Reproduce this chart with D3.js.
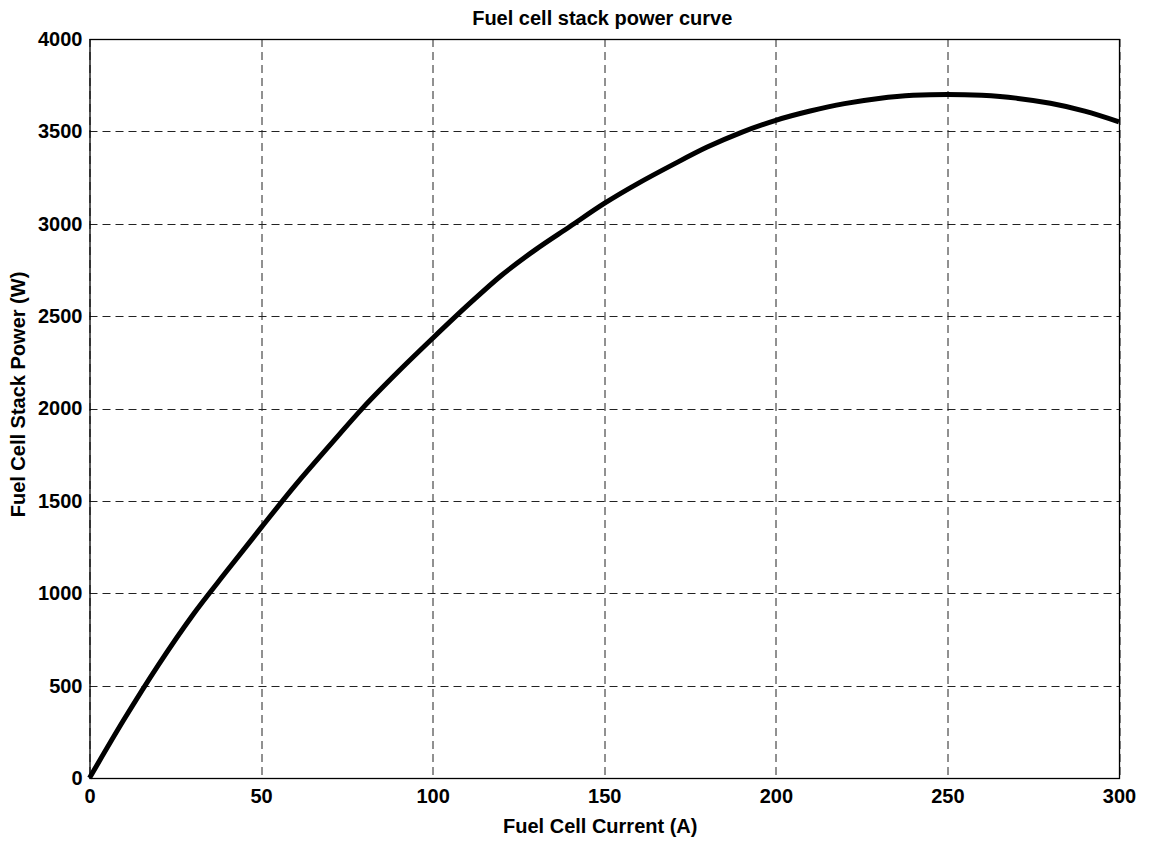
<!DOCTYPE html>
<html>
<head>
<meta charset="utf-8">
<script src="https://cdn.jsdelivr.net/npm/d3@7"></script>
<style>
body{margin:0;background:#fff}
text{font-family:"Liberation Sans",Arial,sans-serif;font-weight:bold;fill:#000}
.title{font-size:20px}
.label{font-size:20px}
</style>
</head>
<body>
<svg id="graph1"></svg>
<script>
// fuel cell current (A)
var current=[0,10,20,30,40,50,60,70,80,90,100,110,120,130,140,150,160,170,180,190,200,210,220,230,240,250,260,270,280,290,300]
// stack power (W)
var power=[0,315,610,880,1120,1355,1585,1800,2010,2200,2380,2555,2720,2860,2985,3110,3220,3320,3415,3495,3560,3610,3650,3678,3695,3700,3695,3680,3652,3610,3552]
var xTicks=[0,50,100,150,200,250,300]
var yTicks=[0,500,1000,1500,2000,2500,3000,3500,4000]

var initGraph1=function()
    {
        var screen={width:1149,height:842}
        var margins={left:89.5,right:30,top:39,bottom:64}
        var graph=
            {
                width:screen.width-margins.left-margins.right,
                height:screen.height-margins.top-margins.bottom
            }
        d3.select("#graph1")
            .attr("width",screen.width)
            .attr("height",screen.height)
        var target=d3.select("#graph1")
            .append("g")
            .attr("id","canvas1")
            .attr("transform","translate("+margins.left+","+margins.top+")")
        var xScale=d3.scaleLinear()
            .domain([0,300])
            .range([0,graph.width])
        var yScale=d3.scaleLinear()
            .domain([0,4000])
            .range([graph.height,0])

        drawGrid1(target,graph,xScale,yScale)
        drawLine1(target,xScale,yScale)
        drawAxes1(target,graph,xScale,yScale)
        drawLabels1(graph,margins)
    }

var drawGrid1=function(target,graph,xScale,yScale)
    {
        target.append("g")
            .selectAll("line")
            .data(xTicks)
            .enter()
            .append("line")
            .attr("x1",function(d){return Math.round(xScale(d))+0.5})
            .attr("x2",function(d){return Math.round(xScale(d))+0.5})
            .attr("y1",0)
            .attr("y2",graph.height)
            .attr("stroke","#222")
            .attr("stroke-dasharray","8,5")
        target.append("g")
            .selectAll("line")
            .data(yTicks)
            .enter()
            .append("line")
            .attr("y1",function(d){return Math.round(yScale(d))+0.5})
            .attr("y2",function(d){return Math.round(yScale(d))+0.5})
            .attr("x1",0)
            .attr("x2",graph.width)
            .attr("stroke","#222")
            .attr("stroke-dasharray","8,5")
    }

var drawLine1=function(target,xScale,yScale)
    {
        var lineGenerator=d3.line()
            .x(function(d,i){return xScale(current[i])})
            .y(function(d){return yScale(d)})
            .curve(d3.curveMonotoneX)
        target.append("path")
            .datum(power)
            .attr("d",lineGenerator)
            .attr("fill","none")
            .attr("stroke","#000")
            .attr("stroke-width",5)
            .attr("stroke-linejoin","round")
    }

var drawAxes1=function(target,graph,xScale,yScale)
    {
        var xAxis=d3.axisBottom(xScale)
            .tickValues(xTicks)
            .tickFormat(d3.format("d"))
            .tickSize(0)
            .tickPadding(11)
        target.append("g")
            .attr("transform","translate(0,"+graph.height+")")
            .call(xAxis)
            .call(function(g){g.select(".domain").remove()})
            .selectAll("text")
            .attr("font-size",20)
            .attr("font-family","Liberation Sans, Arial, sans-serif")
        var yAxis=d3.axisLeft(yScale)
            .tickValues(yTicks)
            .tickFormat(d3.format("d"))
            .tickSize(0)
            .tickPadding(7)
        target.append("g")
            .call(yAxis)
            .call(function(g){g.select(".domain").remove()})
            .selectAll("text")
            .attr("font-size",20)
            .attr("font-family","Liberation Sans, Arial, sans-serif")
        target.append("rect")
            .attr("x",0.5)
            .attr("y",0.5)
            .attr("width",graph.width)
            .attr("height",graph.height)
            .attr("fill","none")
            .attr("stroke","#000")
            .attr("stroke-width",1.3)
    }

var drawLabels1=function(graph,margins)
    {
        var labels=d3.select("#graph1")
            .append("g")
            .classed("labels",true)
        labels.append("text")
            .text("Fuel cell stack power curve")
            .classed("title",true)
            .attr("text-anchor","middle")
            .attr("x",margins.left+graph.width/2-2)
            .attr("y",25)
        labels.append("text")
            .text("Fuel Cell Current (A)")
            .classed("label",true)
            .attr("text-anchor","middle")
            .attr("x",margins.left+graph.width/2-4)
            .attr("y",833)
        labels.append("g")
            .attr("transform","translate(25,"+(margins.top+graph.height/2-14)+")")
            .append("text")
            .text("Fuel Cell Stack Power (W)")
            .classed("label",true)
            .attr("text-anchor","middle")
            .attr("transform","rotate(-90)")
    }

initGraph1()
</script>
</body>
</html>
